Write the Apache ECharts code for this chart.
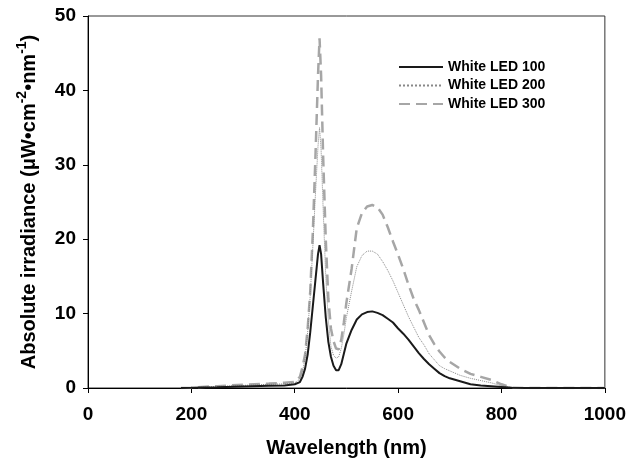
<!DOCTYPE html>
<html>
<head>
<meta charset="utf-8">
<script src="https://cdn.jsdelivr.net/npm/echarts@6/dist/echarts.min.js"></script>
<style>
  html, body { margin: 0; padding: 0; background: #fff; }
  #chart { width: 629px; height: 465px; }
</style>
</head>
<body>
<div id="chart"></div>
<script>
// wavelength (nm) sample points
var wavelengths = [180, 200, 250, 300, 350, 380, 400, 410, 415, 420, 425, 430, 435, 440, 445, 448,
                   451, 455, 460, 465, 470, 475, 480, 485, 490, 495, 500, 510, 520, 530, 540, 550,
                   560, 570, 580, 590, 600, 610, 620, 630, 640, 650, 660, 670, 680, 690, 700, 720,
                   740, 760, 780, 800, 820, 850, 900, 950, 1000];
// absolute irradiance (uW cm-2 nm-1)
var led100 = [0, 0.02, 0.1, 0.2, 0.3, 0.35, 0.5, 0.8, 1.5, 2.6, 4.5, 7.5, 11, 14.5, 18, 19.2,
              18, 14, 9.5, 6.2, 4.2, 3.0, 2.4, 2.4, 3.2, 4.6, 6.0, 7.8, 9.2, 9.9, 10.2, 10.3,
              10.1, 9.8, 9.3, 8.8, 8.0, 7.3, 6.5, 5.6, 4.7, 3.9, 3.2, 2.6, 2.0, 1.6, 1.3, 0.9,
              0.5, 0.35, 0.25, 0.15, 0.05, 0, 0, 0, 0];
var led200 = [0, 0.05, 0.2, 0.35, 0.5, 0.55, 0.7, 1.2, 2.2, 4, 7.5, 12.5, 19, 26, 32.5, 35,
              32, 24, 15, 9, 5.6, 4.4, 4.0, 4.2, 5.3, 7.2, 9.5, 13, 16.3, 17.8, 18.4, 18.4,
              18.0, 17.0, 15.8, 14.4, 12.8, 11.2, 9.6, 8.2, 6.8, 5.8, 4.6, 3.8, 3.0, 2.6, 2.3, 1.7,
              1.3, 1.0, 0.7, 0.3, 0.05, 0, 0, 0, 0];
var led300 = [0, 0.05, 0.25, 0.45, 0.6, 0.7, 0.8, 1.5, 2.8, 4.5, 8, 13, 21, 31, 42, 47,
              42, 31, 20, 12, 8, 6.3, 5.3, 5.2, 6.5, 8.8, 11.5, 16, 21.5, 23.5, 24.4, 24.6,
              24.3, 23.3, 21.6, 19.7, 17.9, 16, 13.9, 12, 10.5, 8.8, 7.1, 5.9, 4.9, 4.1, 3.5, 2.6,
              1.9, 1.5, 1.1, 0.5, 0.05, 0, 0, 0, 0];
var seriesNames = ['White LED 100', 'White LED 200', 'White LED 300'];

function pairs(values) {
    var out = [];
    for (var i = 0; i < wavelengths.length; i++) {
        out.push([wavelengths[i], values[i]]);
    }
    return out;
}

var chart = echarts.init(document.getElementById('chart'));
var font = 'Liberation Sans, Arial, sans-serif';

var option = {
    animation: false,
    grid: {
        left: 88, right: 23, top: 16, bottom: 77,
        show: true, borderColor: '#333', borderWidth: 1
    },
    legend: {
        orient: 'vertical',
        left: 393, top: 55,
        itemWidth: 44, itemHeight: 14, itemGap: 4.5,
        itemStyle: { opacity: 0 },
        textStyle: { fontFamily: font, fontWeight: 'bold', fontSize: 14, color: '#000' },
        data: seriesNames
    },
    xAxis: {
        type: 'value', min: 0, max: 1000, interval: 200,
        name: 'Wavelength (nm)', nameLocation: 'middle', nameGap: 50,
        nameTextStyle: { fontFamily: font, fontWeight: 'bold', fontSize: 20, color: '#000' },
        axisLine: { onZero: false, lineStyle: { color: '#000', width: 1 } },
        axisTick: { inside: false, length: 5, lineStyle: { color: '#000' } },
        axisLabel: {
            margin: 17, fontFamily: font, fontWeight: 'bold', fontSize: 19, color: '#000',
            formatter: function (v) { return String(v); }
        },
        splitLine: { show: false }
    },
    yAxis: {
        type: 'value', min: 0, max: 50, interval: 10,
        name: 'Absolute irradiance (μW•cm{sup|-2}•nm{sup|-1})',
        nameLocation: 'middle', nameGap: 45,
        nameTextStyle: {
            fontFamily: font, fontWeight: 'bold', fontSize: 20, color: '#000',
            lineHeight: 28,
            rich: {
                sup: { fontFamily: font, fontWeight: 'bold', fontSize: 14, color: '#000', verticalAlign: 'top', lineHeight: 28 }
            }
        },
        axisLine: { lineStyle: { color: '#000', width: 1 } },
        axisTick: { length: 5, lineStyle: { color: '#000' } },
        axisLabel: { margin: 12, fontFamily: font, fontWeight: 'bold', fontSize: 19, color: '#000' },
        splitLine: { show: false }
    },
    series: [
        {
            name: seriesNames[0], type: 'line', symbol: 'none', z: 3,
            lineStyle: { color: '#1a1a1a', width: 2 },
            itemStyle: { color: '#1a1a1a' },
            data: pairs(led100)
        },
        {
            name: seriesNames[1], type: 'line', symbol: 'none', z: 2,
            lineStyle: { color: '#888', width: 1, type: 'dotted' },
            itemStyle: { color: '#888' },
            data: pairs(led200)
        },
        {
            name: seriesNames[2], type: 'line', symbol: 'none', z: 1,
            lineStyle: { color: '#a6a6a6', width: 2.5, type: [11, 6] },
            itemStyle: { color: '#a6a6a6' },
            data: pairs(led300)
        }
    ]
};
chart.setOption(option);
</script>
</body>
</html>
